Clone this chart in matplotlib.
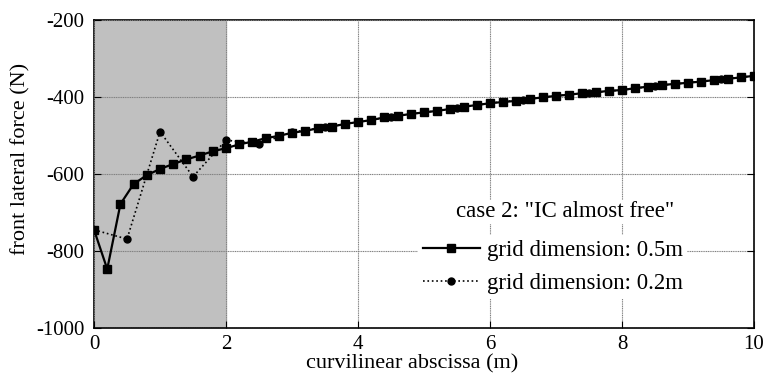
import matplotlib
matplotlib.use("Agg")
import matplotlib.pyplot as plt
import numpy as np

plt.rcParams['font.family'] = ['Liberation Serif', 'DejaVu Serif']
plt.rcParams['axes.unicode_minus'] = False

# grid 0.5m series (squares), every 0.2 m
x_coarse = np.round(np.arange(0, 10.01, 0.2), 1)
f_coarse = [-745, -847, -678, -626, -603, -587, -574, -562, -552, -541,
            -533, -523, -516, -507, -501, -493, -488, -481, -477, -470,
            -465, -460, -453, -449, -444, -440, -436, -431, -425, -421,
            -416, -413, -410, -405, -401, -397, -394, -390, -388, -384,
            -382, -377, -373, -369, -366, -363, -360, -356, -353, -349,
            -345]

# grid 0.2m series (circles), every 0.5 m
x_fine = np.round(np.arange(0, 10.01, 0.5), 1)
f_fine = [-745, -769, -490, -607, -512, -522, -491, -479, -465, -451,
          -440, -429, -416, -407, -397, -389, -382, -371, -363, -354,
          -345]

fig = plt.figure(figsize=(7.67, 3.78), dpi=100)
ax = fig.add_axes([0.1226, 0.1323, 0.8605, 0.8148])

ax.axvspan(0, 2, color='#c0c0c0', zorder=0)

ax.plot(x_coarse, f_coarse, color='black', lw=1.6, marker='s', ms=5.5,
        label='grid dimension: 0.5m', zorder=3)
ax.plot(x_fine, f_fine, color='black', lw=1.2, ls=':', marker='o', ms=5,
        label='grid dimension: 0.2m', zorder=3)

ax.set_xlim(0, 10)
ax.set_ylim(-1000, -200)
ax.set_xticks([0, 2, 4, 6, 8, 10])
ax.set_yticks([-1000, -800, -600, -400, -200])
ax.grid(True, color='#808080', lw=0.8, ls=(0, (1, 0.6)), zorder=1)
ax.set_axisbelow(False)
ax.tick_params(direction='in', length=5, labelsize=15, right=True, top=False)
ax.tick_params(axis='x', pad=5)
ax.tick_params(axis='y', pad=7)
for s in ax.spines.values():
    s.set_linewidth(1.2)

ax.set_xlabel('curvilinear abscissa (m)', fontsize=16)
ax.xaxis.set_label_coords(0.482, -0.085)
ax.set_ylabel('front lateral force (N)', fontsize=16)
ax.yaxis.set_label_coords(-0.097, 0.55)

leg = ax.legend(fontsize=16.5, loc='upper left',
                bbox_to_anchor=(0.491, 0.302), frameon=True, fancybox=False,
                edgecolor='none', facecolor='white', framealpha=1,
                handlelength=2.5, handletextpad=0.3, borderpad=0.2,
                labelspacing=0.54, borderaxespad=0)
leg.set_zorder(5)

ax.text(0.714, 0.377, 'case 2: "IC almost free"', transform=ax.transAxes,
        fontsize=16.5, ha='center', va='center', zorder=5,
        bbox=dict(facecolor='white', edgecolor='none', pad=1))

fig.savefig('out.png', dpi=100)
